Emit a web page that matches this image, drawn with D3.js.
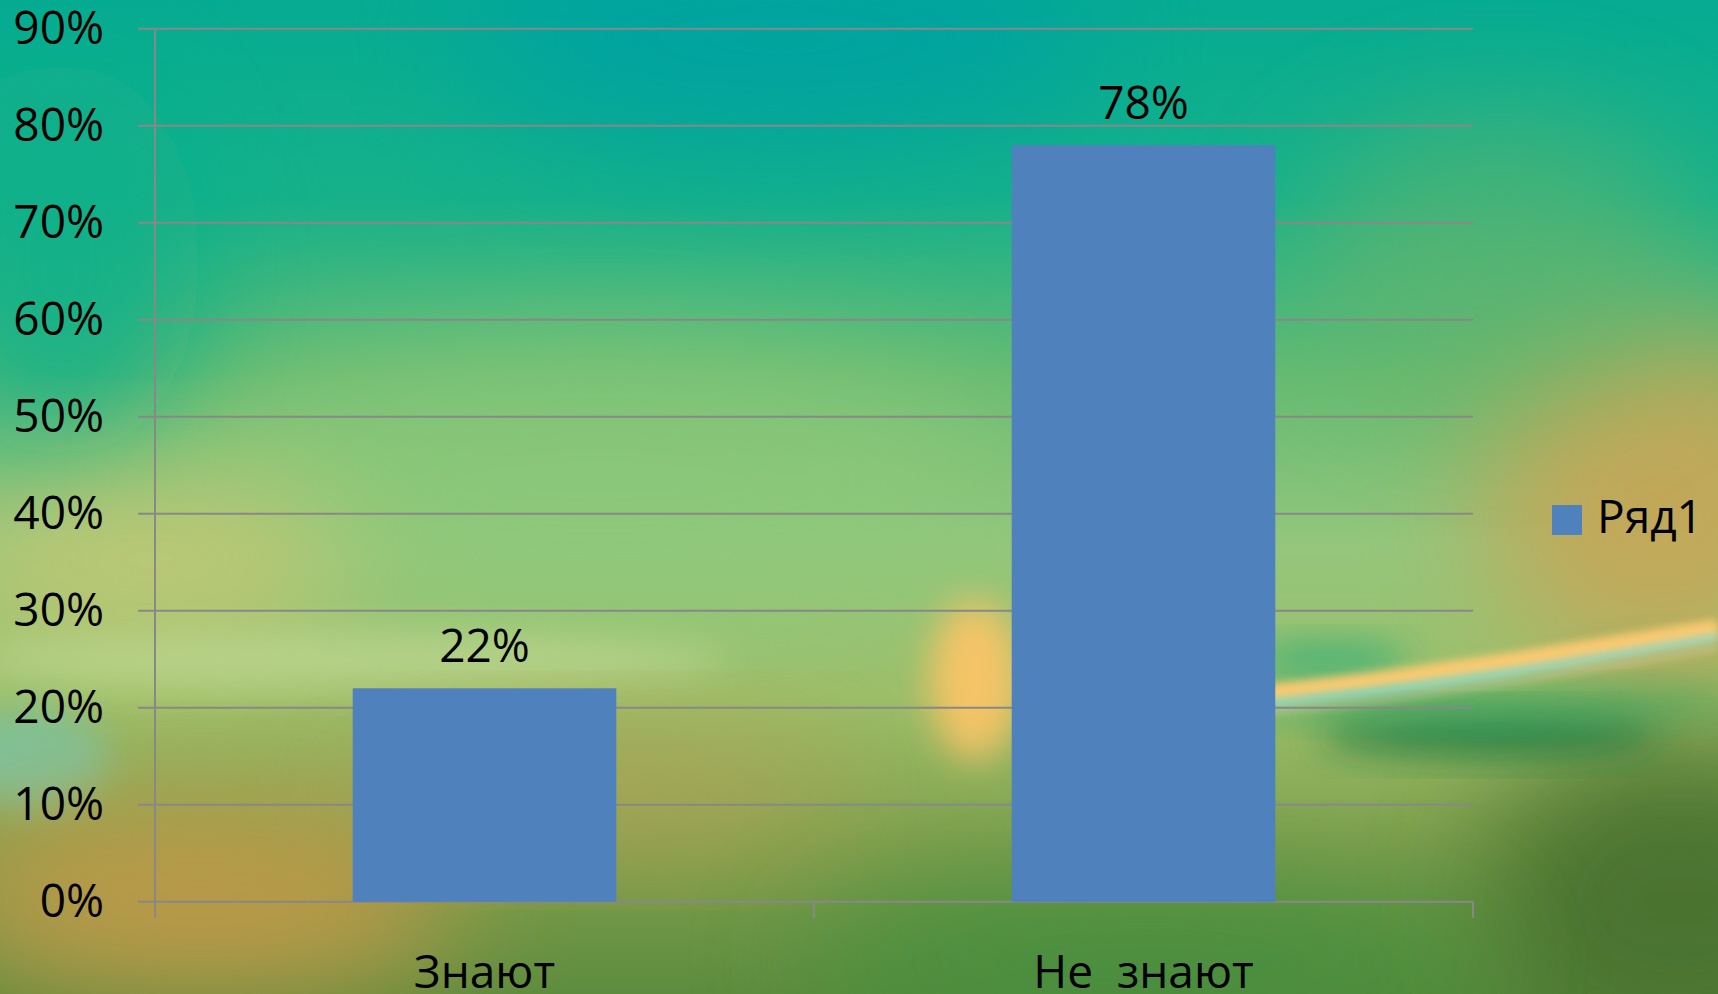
<!DOCTYPE html>
<html>
<head>
<meta charset="utf-8">
<script src="https://cdn.jsdelivr.net/npm/d3@7"></script>
<style>
  html, body { margin: 0; padding: 0; overflow: hidden; }
  svg { display: block; }
  text { font-family: "Open Sans", "Noto Sans", sans-serif; fill: #000; }
</style>
</head>
<body>
<svg id="chart"></svg>
<script>
// Data
const categories = ['Знают', 'Не  знают'];
const values = [0.22, 0.78];
const valueLabels = ['22%', '78%'];
const tickValues = [0, 0.1, 0.2, 0.3, 0.4, 0.5, 0.6, 0.7, 0.8, 0.9];
const seriesName = 'Ряд1';

// Set standards
const width = 1718;
const height = 994;
const margin = {left: 155, right: 245, top: 28.7, bottom: 92.3};
const barColor = '#4f81bd';
const gridColor = '#888888';

const svg = d3.select('#chart')
    .attr('width', width)
    .attr('height', height);

// Background: soft blurred color patches
const defs = svg.append('defs');
const bgGrad = defs.append('linearGradient')
    .attr('id', 'bgGrad').attr('x1', 0).attr('y1', 0).attr('x2', 0).attr('y2', 1);
[['0', '#06ab92'], ['0.2', '#16b18a'], ['0.38', '#66bb72'], ['0.55', '#94c67c'],
 ['0.7', '#9cbf6a'], ['0.85', '#80a04e'], ['1', '#5e8c3e']]
    .forEach(s => bgGrad.append('stop').attr('offset', s[0]).attr('stop-color', s[1]));

function addBlur(id, dev) {
    defs.append('filter').attr('id', id)
        .attr('x', '-50%').attr('y', '-50%').attr('width', '200%').attr('height', '200%')
        .append('feGaussianBlur').attr('stdDeviation', dev);
}
addBlur('blur60', 60);
addBlur('blur20', 18);
addBlur('blur6', 4);

const bg = svg.append('g').attr('class', 'background');
bg.append('rect').attr('width', width).attr('height', height).attr('fill', 'url(#bgGrad)');

const blobs = [
    // cx, cy, rx, ry, color, opacity, filter
    [780, 40, 320, 110, '#00a3a0', 0.9, 'blur60'],
    [60, 260, 140, 200, '#10b08a', 0.8, 'blur60'],
    [600, 480, 420, 140, '#8ec97a', 0.7, 'blur60'],
    [150, 560, 200, 90, '#c7c873', 0.8, 'blur60'],
    [350, 660, 380, 28, '#bcd68e', 0.8, 'blur20'],
    [30, 760, 80, 50, '#7cc4a0', 0.9, 'blur20'],
    [200, 900, 260, 100, '#c49a48', 0.9, 'blur60'],
    [600, 790, 260, 60, '#b8a052', 0.7, 'blur60'],
    [1660, 500, 180, 170, '#c8a656', 0.9, 'blur60'],
    [1500, 260, 200, 140, '#6ab46a', 0.6, 'blur60'],
    [1680, 900, 200, 160, '#46702f', 0.9, 'blur60'],
    [1150, 960, 350, 80, '#3f8e3e', 0.8, 'blur60'],
    [1490, 735, 170, 22, '#1f7c45', 0.85, 'blur20'],
    [1480, 705, 260, 18, '#2ea868', 0.6, 'blur20'],
    [1330, 660, 80, 18, '#2eae78', 0.8, 'blur20'],
    [975, 680, 45, 80, '#ffc566', 0.9, 'blur20']
];
bg.selectAll('ellipse').data(blobs).enter().append('ellipse')
    .attr('cx', d => d[0]).attr('cy', d => d[1])
    .attr('rx', d => d[2]).attr('ry', d => d[3])
    .attr('fill', d => d[4]).attr('opacity', d => d[5])
    .attr('filter', d => `url(#${d[6]})`);

// Light streak on the right
const streak = d3.line().curve(d3.curveBasis);
bg.append('path')
    .attr('d', streak([[1050, 712], [1275, 694], [1474, 668], [1718, 628]]))
    .attr('fill', 'none').attr('stroke', '#ffcb72').attr('stroke-width', 18)
    .attr('opacity', 0.95).attr('filter', 'url(#blur6)');
bg.append('path')
    .attr('d', streak([[1200, 712], [1350, 695], [1500, 675], [1718, 637]]))
    .attr('fill', 'none').attr('stroke', '#8fe2dc').attr('stroke-width', 7)
    .attr('opacity', 0.9).attr('filter', 'url(#blur6)');
bg.append('path')
    .attr('d', streak([[1200, 720], [1350, 704], [1500, 684], [1718, 648]]))
    .attr('fill', 'none').attr('stroke', '#d8c8a0').attr('stroke-width', 6)
    .attr('opacity', 0.6).attr('filter', 'url(#blur6)');

// Scales
const x = d3.scaleBand()
    .domain(categories)
    .range([margin.left, width - margin.right])
    .padding(0);

const y = d3.scaleLinear()
    .domain([0, 0.9])
    .range([height - margin.bottom, margin.top]);

// Grid lines
const grid = svg.append('g').attr('class', 'grid');
grid.selectAll('line').data(tickValues).enter().append('line')
    .attr('x1', margin.left - 17)
    .attr('x2', width - margin.right)
    .attr('y1', d => y(d)).attr('y2', d => y(d))
    .attr('stroke', gridColor).attr('stroke-width', 2);

// Y axis line
svg.append('line')
    .attr('x1', margin.left).attr('x2', margin.left)
    .attr('y1', y(0.9)).attr('y2', y(0) + 16)
    .attr('stroke', gridColor).attr('stroke-width', 2);

// Category boundary ticks
const bounds = categories.slice(1).map(c => x(c)).concat([width - margin.right]);
svg.append('g').selectAll('line').data(bounds).enter().append('line')
    .attr('x1', d => d).attr('x2', d => d)
    .attr('y1', y(0)).attr('y2', y(0) + 16)
    .attr('stroke', gridColor).attr('stroke-width', 2);

// Y tick labels
svg.append('g').selectAll('text').data(tickValues).enter().append('text')
    .attr('x', 104)
    .attr('y', d => y(d) + 15)
    .attr('text-anchor', 'end')
    .attr('font-size', 46)
    .text(d => d3.format('.0%')(d));

// Bars
const barW = x.bandwidth() * 0.4;
const data = categories.map((c, i) => ({cat: c, value: values[i], label: valueLabels[i]}));

svg.append('g').selectAll('rect').data(data).enter().append('rect')
    .attr('x', d => x(d.cat) + (x.bandwidth() - barW) / 2)
    .attr('width', barW)
    .attr('y', d => y(d.value))
    .attr('height', d => y(0) - y(d.value))
    .attr('fill', barColor);

// Value labels
svg.append('g').selectAll('text').data(data).enter().append('text')
    .attr('x', d => x(d.cat) + x.bandwidth() / 2)
    .attr('y', d => y(d.value) - 26)
    .attr('text-anchor', 'middle')
    .attr('font-size', 46)
    .text(d => d.label);

// Category labels
svg.append('g').selectAll('text').data(categories).enter().append('text')
    .attr('x', d => x(d) + x.bandwidth() / 2)
    .attr('y', 988)
    .attr('text-anchor', 'middle')
    .attr('font-size', 46)
    .attr('xml:space', 'preserve')
    .style('white-space', 'pre')
    .text(d => d);

// Legend
const legend = svg.append('g').attr('class', 'legend');
legend.append('rect')
    .attr('x', 1552).attr('y', 505)
    .attr('width', 30).attr('height', 30)
    .attr('fill', barColor);
legend.append('text')
    .attr('x', 1597).attr('y', 533)
    .attr('font-size', 46)
    .text(seriesName);
</script>
</body>
</html>
